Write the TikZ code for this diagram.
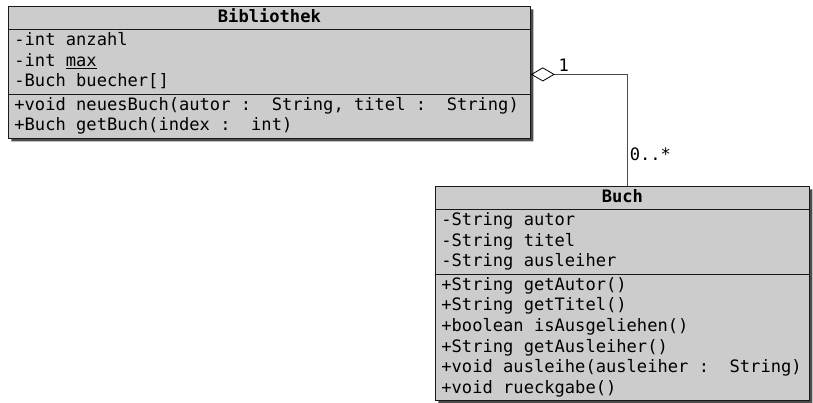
\documentclass[tikz,border=0pt]{standalone}
\usepackage{fontspec}
\setmonofont{DejaVu Sans Mono}
\usepackage{tikz}
\usetikzlibrary{arrows.meta,shapes.multipart,shadows}
\newcommand{\mrow}{\spaceskip=0.602em\xspaceskip=0.602em\relax\strut}

\begin{document}
\begin{tikzpicture}[x=1pt,y=1pt,font=\ttfamily\fontsize{17.1}{20.6}\selectfont,
  cls/.style={draw=black!90,line width=0.8pt,fill=black!20,
    rectangle split,rectangle split parts=3,anchor=north west,
    inner xsep=6pt,inner ysep=1pt,
    drop shadow={shadow xshift=3pt,shadow yshift=-3pt,fill=black!70,opacity=1}},
  assoc/.style={draw=black!70,line width=0.9pt},
  mult/.style={inner sep=2pt}]
  \useasboundingbox (0,0) rectangle (813,-402);
  \node[cls,text width=510pt] (bib) at (8,-6) {\centerline{\strut\bfseries Bibliothek}
    \nodepart{two}\mrow-int anzahl\\-int \underline{max}\\-Buch buecher[]\strut
    \nodepart{three}\mrow+void neuesBuch(autor :\ \ String, titel :\ \ String)\\+Buch getBuch(index :\ \ int)\strut};
  \node[cls,text width=362pt] (buch) at (435,-186) {\centerline{\strut\bfseries Buch}
    \nodepart{two}\mrow-String autor\\-String titel\\-String ausleiher\strut
    \nodepart{three}\mrow+String getAutor()\\+String getTitel()\\+boolean isAusgeliehen()\\+String getAusleiher()\\+void ausleihe(ausleiher :\ \ String)\\+void rueckgabe()\strut};
  \draw[assoc,{Diamond[open,length=24pt,width=14pt,color=black,line width=0.8pt]}-]
    ([yshift=-2pt]bib.east) -| node[mult,pos=0.17,above]{1} node[mult,pos=0.86,right]{0..*} ([xshift=5pt]buch.north);
\end{tikzpicture}
\end{document}
